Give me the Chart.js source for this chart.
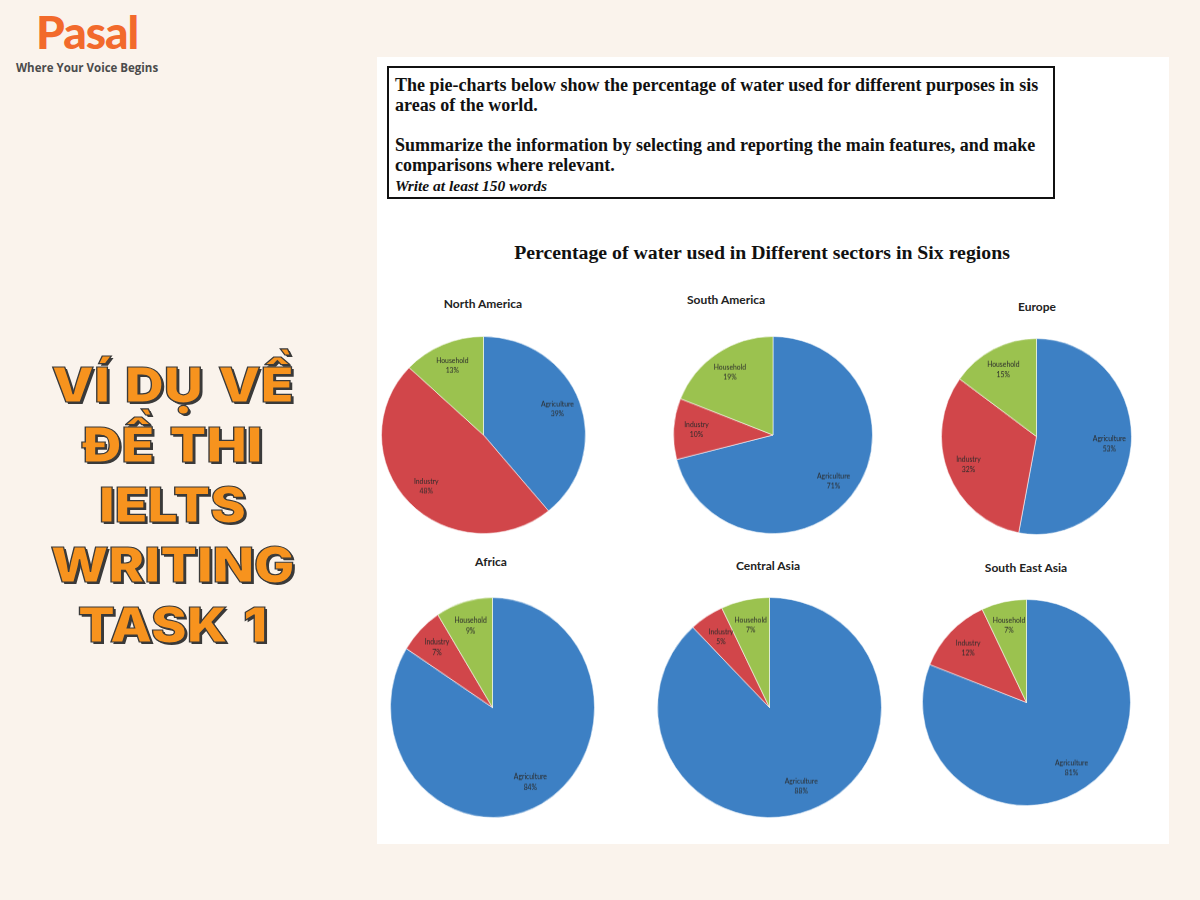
<!DOCTYPE html>
<html>
<head>
<meta charset="utf-8">
<script src="https://cdn.jsdelivr.net/npm/chart.js@4.4.0/dist/chart.umd.min.js"></script>
<style>
  html, body { margin:0; padding:0; }
  body { width:1200px; height:900px; background:#faf3ec; position:relative; overflow:hidden; }
  .logo { position:absolute; left:36px; top:4px; font-family:"Lato",sans-serif; font-weight:900; font-size:46px; color:#f26a2c; letter-spacing:-1px; line-height:56px; }
  .tagline { position:absolute; left:16px; top:60px; font-family:"Open Sans",sans-serif; font-weight:700; font-size:11.5px; color:#4b4b4b; }
  .bigtext { position:absolute; left:0; top:355px; width:345px; text-align:center; font-family:"Inter",sans-serif; font-weight:900; font-size:48px; line-height:60px; color:#f7931e; -webkit-text-stroke:1.2px #3a3a3a; text-shadow:2px 2px 0 #3a3a3a; word-spacing:4px; transform:scaleX(1.12); transform-origin:172px 0; }
  .panel { position:absolute; left:377px; top:57px; width:792px; height:787px; background:#fff; }
  .prompt { position:absolute; left:387px; top:66px; width:664px; height:129px; border:2px solid #111; font-family:"Liberation Serif",serif; font-weight:700; font-size:18px; line-height:20px; color:#111; }
  .prompt .in { position:absolute; left:6px; top:7px; white-space:nowrap; }
  .prompt i { font-size:15.5px; }
  .main-title { position:absolute; left:362px; width:800px; top:241px; text-align:center; font-family:"Liberation Serif",serif; font-weight:700; font-size:19.8px; color:#111; }
  .ptitle { position:absolute; width:200px; margin-left:-100px; text-align:center; font-family:"Lato",sans-serif; font-weight:700; font-size:12px; color:#222; line-height:14px; }
  canvas.pie { position:absolute; }
</style>
</head>
<body>
<div class="logo">Pasal</div>
<div class="tagline">Where Your Voice Begins</div>
<div class="bigtext">VÍ DỤ VỀ<br>ĐỀ THI<br>IELTS<br>WRITING<br>TASK 1</div>

<div class="panel"></div>
<div class="prompt"><div class="in">
The pie-charts below show the percentage of water used for different purposes in sis<br>
areas of the world.<br><br>
Summarize the information by selecting and reporting the main features, and make<br>
comparisons where relevant.<br>
<i>Write at least 150 words</i>
</div></div>
<div class="main-title">Percentage of water used in Different sectors in Six regions</div>

<script>
// --- Datos ---
const regions = ['North America', 'South America', 'Europe', 'Africa', 'Central Asia', 'South East Asia'];
const sectors = ['Agriculture', 'Industry', 'Household'];
const agriculture = [39, 71, 53, 84, 88, 81];
const industry = [48, 10, 32, 7, 5, 12];
const household = [13, 19, 15, 9, 7, 7];

const sectorColors = ['#3d80c4', '#d1464a', '#9bc24f'];

// posición de cada tarta en la página (centro, radios) y del título
const layout = [
  {cx:483.5, cy:435,   rx:100.5, ry:97,    tx:483, ty:304},
  {cx:773,   cy:435,   rx:98,    ry:97,    tx:726, ty:300},
  {cx:1036.5,cy:436.5, rx:93.5,  ry:96.5,  tx:1037, ty:307},
  {cx:492.5, cy:707.5, rx:100.5, ry:108.5, tx:491, ty:562},
  {cx:769.5, cy:707.5, rx:110.5, ry:108.5, tx:768, ty:566},
  {cx:1026.5,cy:702.5, rx:102.5, ry:101.5, tx:1026, ty:568}
];

// etiquetas dentro de cada porción (nombre + %)
const sliceLabels = {
  id: 'sliceLabels',
  afterDatasetsDraw(chart){
    const ctx = chart.ctx;
    const meta = chart.getDatasetMeta(0);
    const ds = chart.data.datasets[0];
    ctx.save();
    ctx.fillStyle = '#2b2b2b';
    ctx.font = '6.8px Lato, sans-serif';
    ctx.textAlign = 'center';
    ctx.textBaseline = 'middle';
    meta.data.forEach((arc, i) => {
      const p = arc.getProps(['x','y','startAngle','endAngle','outerRadius'], true);
      const mid = (p.startAngle + p.endAngle) / 2;
      const d = p.outerRadius * 0.77;
      const x = p.x + Math.cos(mid) * d;
      const y = p.y + Math.sin(mid) * d;
      ctx.fillText(chart.data.labels[i], x, y - 5);
      ctx.fillText(ds.data[i] + '%', x, y + 5);
    });
    ctx.restore();
  }
};

regions.forEach((name, i) => {
  const L = layout[i];
  const t = document.createElement('div');
  t.className = 'ptitle';
  t.style.left = L.tx + 'px';
  t.style.top = (L.ty - 7) + 'px';
  t.textContent = name;
  document.body.appendChild(t);

  const size = Math.round(2 * L.rx + 4);
  const cssH = Math.round(2 * L.ry + 4);
  const c = document.createElement('canvas');
  c.className = 'pie';
  c.width = size; c.height = size;
  c.style.width = size + 'px';
  c.style.height = cssH + 'px';
  c.style.left = (L.cx - size / 2) + 'px';
  c.style.top = (L.cy - cssH / 2) + 'px';
  document.body.appendChild(c);

  new Chart(c.getContext('2d'), {
    type: 'pie',
    data: {
      labels: sectors,
      datasets: [{
        data: [agriculture[i], industry[i], household[i]],
        backgroundColor: sectorColors,
        borderColor: 'rgba(255,255,255,0.55)',
        borderWidth: 1
      }]
    },
    options: {
      responsive: false,
      animation: false,
      layout: { padding: 0 },
      plugins: { legend: { display: false }, tooltip: { enabled: false }, title: { display: false } }
    },
    plugins: [sliceLabels]
  });
});
</script>
</body>
</html>
